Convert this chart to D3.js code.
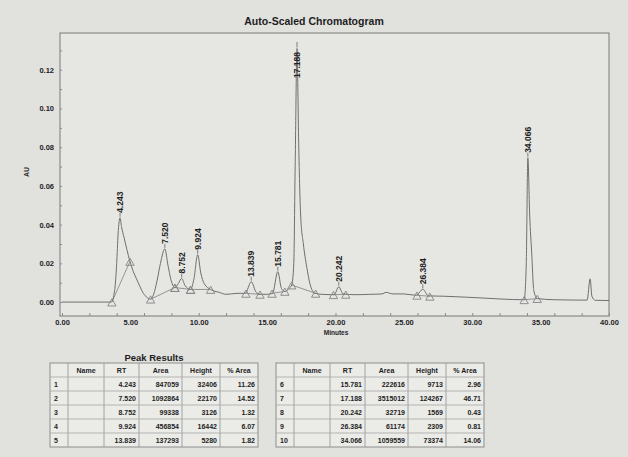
<!DOCTYPE html>
<html>
<head>
<meta charset="utf-8">
<script src="https://cdn.jsdelivr.net/npm/d3@7"></script>
<style>
  html, body { margin: 0; padding: 0; background: #e1e1de; }
  svg { display: block; font-family: "Liberation Sans", Arial, sans-serif; }
</style>
</head>
<body>
<svg id="chart" width="628" height="457"></svg>
<script>
// Detector trace: [retention time (min), absorbance (AU)]
const trace = [
  [0, 0.0], [3.0, 0.0], [3.6, 0.0], [3.85, 0.006], [4.0, 0.02], [4.1, 0.035],
  [4.243, 0.0435], [4.35, 0.039], [4.55, 0.033], [4.75, 0.027], [4.97, 0.021],
  [5.2, 0.016], [5.45, 0.012], [5.7, 0.008], [5.95, 0.0045], [6.2, 0.0025],
  [6.48, 0.0015], [6.7, 0.004], [6.95, 0.011], [7.2, 0.02], [7.52, 0.0275],
  [7.75, 0.019], [7.95, 0.012], [8.26, 0.0075], [8.5, 0.0095], [8.752, 0.0122],
  [9.0, 0.0085], [9.4, 0.0065], [9.65, 0.012], [9.924, 0.0245], [10.15, 0.015],
  [10.4, 0.0095], [10.87, 0.0065], [11.5, 0.005], [12.0, 0.004], [12.8, 0.0045],
  [13.4, 0.0045], [13.839, 0.0105], [14.2, 0.005], [14.48, 0.004], [15.0, 0.004],
  [15.4, 0.0045], [15.781, 0.0157], [16.05, 0.007], [16.3, 0.0055], [16.6, 0.007],
  [16.8, 0.0088], [16.95, 0.02], [17.05, 0.07], [17.188, 0.131], [17.3, 0.085],
  [17.45, 0.045], [17.65, 0.03], [17.9, 0.018], [18.13, 0.0095], [18.5, 0.0045],
  [19.0, 0.004], [19.9, 0.0038], [20.242, 0.0079], [20.55, 0.0042], [21.5, 0.0038],
  [22.5, 0.004], [23.4, 0.0042], [23.7, 0.005], [24.2, 0.0042], [25.0, 0.0042],
  [25.9, 0.0035], [26.384, 0.0066], [26.8, 0.0032], [28.0, 0.003], [29.6, 0.0025],
  [31.0, 0.002], [33.0, 0.0013], [33.8, 0.0012], [33.95, 0.02], [34.066, 0.0745],
  [34.2, 0.045], [34.35, 0.025], [34.5, 0.006], [34.75, 0.0018], [36.0, 0.0012],
  [38.4, 0.001], [38.62, 0.012], [38.75, 0.003], [39.0, 0.0009], [40.0, 0.0008]
];

// Integration baselines: [start time, start AU, end time, end AU]
const baselines = [
  [3.65, 0.0, 4.97, 0.021],
  [6.48, 0.0015, 8.26, 0.0075],
  [8.26, 0.0075, 9.4, 0.0065],
  [9.4, 0.0065, 10.87, 0.0065],
  [13.45, 0.0045, 14.48, 0.004],
  [15.36, 0.0045, 16.3, 0.0055],
  [16.8, 0.0088, 18.55, 0.0045],
  [19.85, 0.0038, 20.75, 0.004],
  [25.96, 0.0035, 26.9, 0.003],
  [33.8, 0.0012, 34.75, 0.0018]
];

// Peak table
const peakNo  = [1, 2, 3, 4, 5, 6, 7, 8, 9, 10];
const peakRT  = ["4.243", "7.520", "8.752", "9.924", "13.839", "15.781", "17.188", "20.242", "26.384", "34.066"];
const peakArea = ["847059", "1092864", "99338", "456854", "137293", "222616", "3515012", "32719", "61174", "1059559"];
const peakHeight = ["32406", "22170", "3126", "16442", "5280", "9713", "124267", "1569", "2309", "73374"];
const peakPctArea = ["11.26", "14.52", "1.32", "6.07", "1.82", "2.96", "46.71", "0.43", "0.81", "14.06"];

const xTicks = [0, 5, 10, 15, 20, 25, 30, 35, 40];
const yTicks = [0, 0.02, 0.04, 0.06, 0.08, 0.10, 0.12];
const tableHeaders = ["", "Name", "RT", "Area", "Height", "% Area"];

const svg = d3.select("#chart");
const ink = "#1e1e1e";
const lineGrey = "#6f6f6f";

const frame = { left: 60, right: 609, top: 33, bottom: 316 };
const x = d3.scaleLinear().domain([-0.146, 40]).range([frame.left, frame.right]);
const y = d3.scaleLinear().domain([-0.0072, 0.139]).range([frame.bottom, frame.top]);

// Title
svg.append("text")
  .attr("x", 314).attr("y", 25)
  .attr("text-anchor", "middle")
  .attr("font-size", 10.5).attr("font-weight", "bold").attr("fill", ink)
  .text("Auto-Scaled Chromatogram");

// Plot frame
svg.append("rect")
  .attr("x", frame.left).attr("y", frame.top)
  .attr("width", frame.right - frame.left).attr("height", frame.bottom - frame.top)
  .attr("fill", "#e6e6e3").attr("stroke", "#7a7a7a").attr("stroke-width", 1);

// Axes
const xAxis = d3.axisBottom(x).tickValues(xTicks).tickFormat(d3.format(".2f")).tickSize(0).tickPadding(4);
const gx = svg.append("g").attr("transform", `translate(0,${frame.bottom})`).call(xAxis);
gx.select(".domain").remove();
gx.selectAll("text").attr("font-size", 7.5).attr("font-weight", "bold").attr("fill", ink)
  .attr("font-family", "'Liberation Sans', Arial, sans-serif");

// Minor x ticks along the bottom edge
const xMinor = d3.axisBottom(x).tickValues(d3.range(0, 40.01, 2)).tickSize(-3).tickFormat("");
const gxm = svg.append("g").attr("transform", `translate(0,${frame.bottom})`).call(xMinor);
gxm.select(".domain").remove();
gxm.selectAll("line").attr("stroke", "#8a8a8a");

const yAxis = d3.axisLeft(y).tickValues(yTicks).tickFormat(d3.format(".2f")).tickSize(0).tickPadding(6);
const gy = svg.append("g").attr("transform", `translate(${frame.left},0)`).call(yAxis);
gy.select(".domain").remove();
gy.selectAll("text").attr("font-size", 7.5).attr("font-weight", "bold").attr("fill", ink)
  .attr("font-family", "'Liberation Sans', Arial, sans-serif");

const yMinor = d3.axisLeft(y).tickValues(d3.range(0, 0.1301, 0.01)).tickSize(-2).tickFormat("");
const gym = svg.append("g").attr("transform", `translate(${frame.left},0)`).call(yMinor);
gym.select(".domain").remove();
gym.selectAll("line").attr("stroke", "#8a8a8a");

// Axis titles
svg.append("text")
  .attr("x", 336).attr("y", 335)
  .attr("text-anchor", "middle")
  .attr("font-size", 6.5).attr("font-weight", "bold").attr("fill", ink)
  .text("Minutes");
svg.append("text")
  .attr("transform", "translate(29,172) rotate(-90)")
  .attr("text-anchor", "middle")
  .attr("font-size", 7).attr("font-weight", "bold").attr("fill", ink)
  .text("AU");

// Baselines
svg.append("g").selectAll("line").data(baselines).join("line")
  .attr("x1", d => x(d[0])).attr("y1", d => y(d[1]))
  .attr("x2", d => x(d[2])).attr("y2", d => y(d[3]))
  .attr("stroke", "#8a8a8a").attr("stroke-width", 0.9);

// Trace
const line = d3.line().x(d => x(d[0])).y(d => y(d[1])).curve(d3.curveMonotoneX);
svg.append("path").datum(trace)
  .attr("d", line)
  .attr("fill", "none").attr("stroke", lineGrey).attr("stroke-width", 1);

// Peak start / end markers
const markers = baselines.flatMap(b => [[b[0], b[1]], [b[2], b[3]]]);
const tri = d3.symbol().type(d3.symbolTriangle).size(30);
svg.append("g").selectAll("path").data(markers).join("path")
  .attr("d", tri)
  .attr("transform", d => `translate(${x(d[0])},${y(d[1]) + 1.5})`)
  .attr("fill", "none").attr("stroke", "#858585").attr("stroke-width", 0.9);

// Peak labels with leader lines
const apexAU = rt => {
  const t = +rt;
  const p = trace.reduce((best, d) => Math.abs(d[0] - t) < Math.abs(best[0] - t) ? d : best);
  return p[1];
};
const labelMinBottom = 78;
const labels = svg.append("g");
peakRT.forEach(rt => {
  const px = x(+rt);
  const py = y(apexAU(rt));
  const bottom = Math.max(py - 5, labelMinBottom);
  labels.append("line")
    .attr("x1", px).attr("x2", px)
    .attr("y1", py - 1).attr("y2", Math.min(bottom, py - 1))
    .attr("stroke", lineGrey).attr("stroke-width", 0.9);
  if (bottom > py) {
    // label pushed into the plot: continue leader up past the text
    labels.append("line")
      .attr("x1", px).attr("x2", px)
      .attr("y1", py - 1).attr("y2", bottom - 36)
      .attr("stroke", lineGrey).attr("stroke-width", 0.9);
  }
  labels.append("text")
    .attr("transform", `translate(${px + 3},${bottom}) rotate(-90)`)
    .attr("font-size", 8.5).attr("font-weight", "bold").attr("fill", ink)
    .text(rt);
});

// Peak results tables
svg.append("text")
  .attr("x", 154).attr("y", 361)
  .attr("text-anchor", "middle")
  .attr("font-size", 9.5).attr("font-weight", "bold").attr("fill", ink)
  .text("Peak Results");

const colW = [18, 36, 35, 43, 38, 38];
const rowH = 14;
function drawTable(x0, y0, rows) {
  const g = svg.append("g").attr("transform", `translate(${x0},${y0})`);
  const totalW = d3.sum(colW);
  const totalH = rowH * (rows.length + 1);
  g.append("rect").attr("width", totalW).attr("height", totalH)
    .attr("fill", "#ebebe8").attr("stroke", "#8d8d8d").attr("stroke-width", 1);
  const colX = d3.cumsum([0, ...colW]);
  colX.slice(1, -1).forEach(cx => {
    g.append("line").attr("x1", cx).attr("x2", cx).attr("y1", 0).attr("y2", totalH)
      .attr("stroke", "#9a9a9a").attr("stroke-width", 0.9);
  });
  d3.range(1, rows.length + 1).forEach(r => {
    g.append("line").attr("x1", 0).attr("x2", totalW).attr("y1", r * rowH).attr("y2", r * rowH)
      .attr("stroke", "#a5a5a5").attr("stroke-width", 0.8);
  });
  tableHeaders.forEach((h, c) => {
    g.append("text").attr("x", colX[c] + colW[c] / 2).attr("y", rowH / 2 + 2.5)
      .attr("text-anchor", "middle").attr("font-size", 7).attr("font-weight", "bold").attr("fill", ink)
      .text(h);
  });
  rows.forEach((row, r) => {
    row.forEach((v, c) => {
      const isIndex = c === 0;
      g.append("text")
        .attr("x", isIndex ? colX[c] + 4 : colX[c + 1] - 3)
        .attr("y", (r + 1) * rowH + rowH / 2 + 2.5)
        .attr("text-anchor", isIndex ? "start" : "end")
        .attr("font-size", 7).attr("font-weight", "bold").attr("fill", ink)
        .text(v);
    });
  });
}
const rowsFor = idx => idx.map(i => [String(peakNo[i]), "", peakRT[i], peakArea[i], peakHeight[i], peakPctArea[i]]);
drawTable(50, 363, rowsFor([0, 1, 2, 3, 4]));
drawTable(276, 363, rowsFor([5, 6, 7, 8, 9]));
</script>
</body>
</html>
